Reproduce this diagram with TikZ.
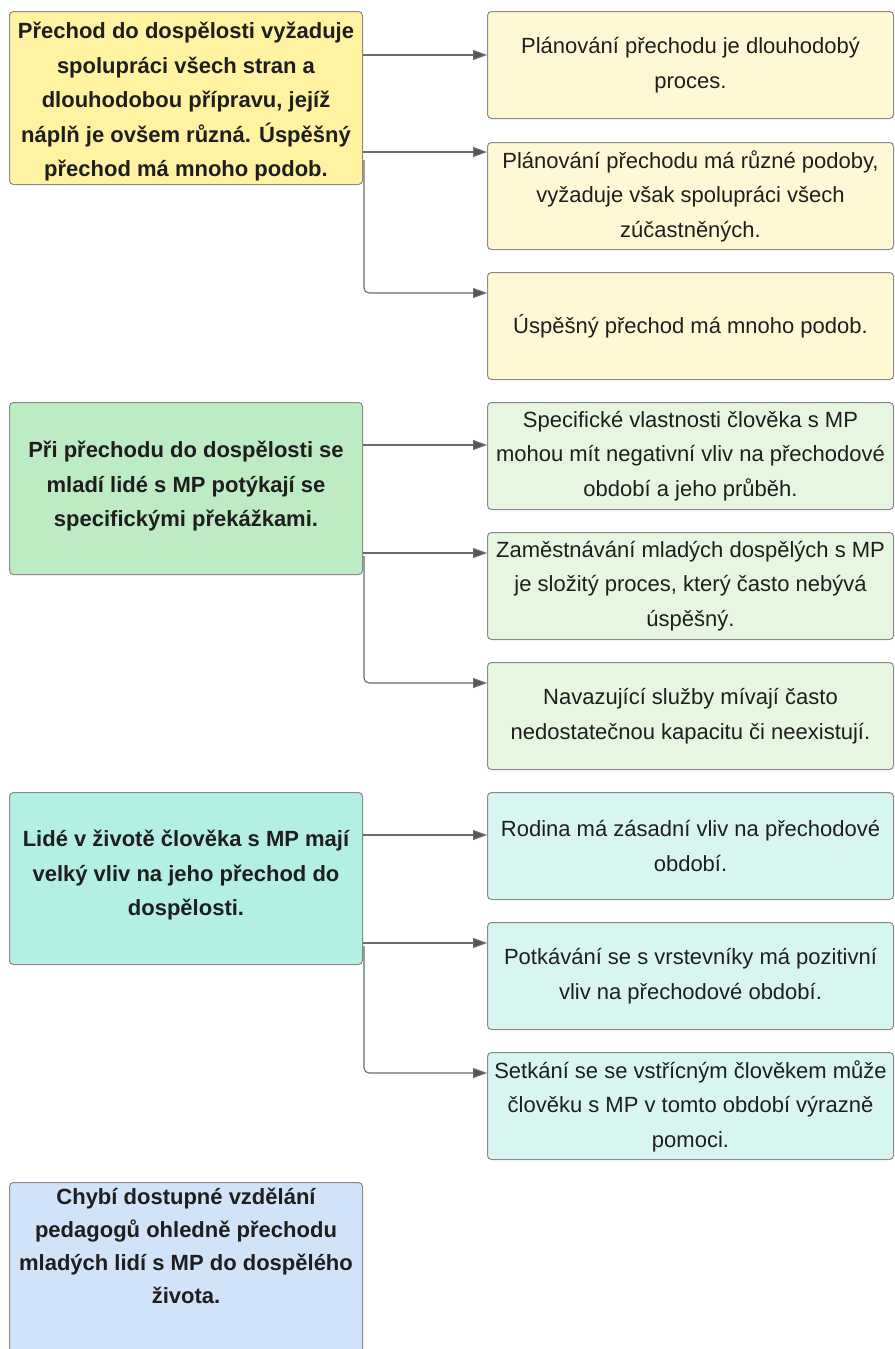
\documentclass[tikz,border=0pt]{standalone}
\usepackage{fontspec}
\setmainfont{Liberation Sans}
\usetikzlibrary{arrows.meta}
\definecolor{yellowL}{HTML}{FFF3A1}
\definecolor{yellowR}{HTML}{FEF9D4}
\definecolor{greenL}{HTML}{BDEBC3}
\definecolor{greenR}{HTML}{E6F6E1}
\definecolor{tealL}{HTML}{B4EFE6}
\definecolor{tealR}{HTML}{D7F6F2}
\definecolor{blueL}{HTML}{D0E3F9}
\definecolor{bordergray}{HTML}{8A8A8A}
\definecolor{textc}{HTML}{1E1E1E}
\definecolor{conncol}{HTML}{6B6B6B}
\tikzset{
  box/.style={draw=bordergray, line width=1pt, rounded corners=4pt, anchor=north west,
    inner sep=0pt, align=center, text=textc, font=\fontsize{22}{34.5}\selectfont},
  lbox/.style={box, minimum width=353pt, minimum height=173pt},
  ltext/.style={align=center, text=textc, inner sep=0pt, font=\bfseries\fontsize{22}{34.5}\selectfont},
  rbox/.style={box, minimum width=406pt, minimum height=107pt},
  conn/.style={draw=conncol, line width=1.1pt, rounded corners=5pt,
    -{Triangle[length=14pt,width=10pt,fill=conncol!80!black]}},
}
\begin{document}
\begin{tikzpicture}[x=1pt,y=-1pt]
\useasboundingbox (0,0) rectangle (894,1349);
\clip (0,0) rectangle (894,1349);
\fill[white] (0,0) rectangle (894,1349);
% group 1
\node[lbox, fill=yellowL] (L1) at (9,11) {};
\node[ltext] (L1t) at ([yshift=-4pt]L1.center) {Přechod do dospělosti vyžaduje\\ spolupráci všech stran a\\ dlouhodobou přípravu, jejíž\\ náplň je ovšem různá. Úspěšný\\ přechod má mnoho podob.};
\node[rbox, fill=yellowR] (R11) at (487,11) {Plánování přechodu je dlouhodobý\\ proces.};
\node[rbox, fill=yellowR] (R12) at (487,142) {Plánování přechodu má různé podoby,\\ vyžaduje však spolupráci všech\\ zúčastněných.};
\node[rbox, fill=yellowR] (R13) at (487,272) {Úspěšný přechod má mnoho podob.};
\draw[conn] (L1.east |- 0,55) -- (R11.west |- 0,55);
\draw[conn] (L1.east |- 0,152) -- (R12.west |- 0,152);
\draw[conn] ([xshift=1pt]L1.east |- 0,160) -- ([xshift=1pt]L1.east |- 0,293) -- (R13.west |- 0,293);
% group 2
\node[lbox, fill=greenL, minimum height=172pt] (L2) at (9,402) {};
\node[ltext] (L2t) at ([yshift=2pt]L2.center) {Při přechodu do dospělosti se\\ mladí lidé s MP potýkají se\\ specifickými překážkami.};
\node[rbox, fill=greenR] (R21) at (487,402) {Specifické vlastnosti člověka s MP\\ mohou mít negativní vliv na přechodové\\ období a jeho průběh.};
\node[rbox, fill=greenR] (R22) at (487,532) {Zaměstnávání mladých dospělých s MP\\ je složitý proces, který často nebývá\\ úspěšný.};
\node[rbox, fill=greenR] (R23) at (487,662) {Navazující služby mívají často\\ nedostatečnou kapacitu či neexistují.};
\draw[conn] (L2.east |- 0,445) -- (R21.west |- 0,445);
\draw[conn] (L2.east |- 0,553) -- (R22.west |- 0,553);
\draw[conn] ([xshift=1pt]L2.east |- 0,556) -- ([xshift=1pt]L2.east |- 0,683) -- (R23.west |- 0,683);
% group 3
\node[lbox, fill=tealL, minimum height=172pt] (L3) at (9,792) {};
\node[ltext] (L3t) at ([yshift=3pt]L3.center) {Lidé v životě člověka s MP mají\\ velký vliv na jeho přechod do\\ dospělosti.};
\node[rbox, fill=tealR] (R31) at (487,792) {Rodina má zásadní vliv na přechodové\\ období.};
\node[rbox, fill=tealR] (R32) at (487,922) {Potkávání se s vrstevníky má pozitivní\\ vliv na přechodové období.};
\node[rbox, fill=tealR] (R33) at (487,1052) {Setkání se se vstřícným člověkem může\\ člověku s MP v tomto období výrazně\\ pomoci.};
\draw[conn] (L3.east |- 0,835) -- (R31.west |- 0,835);
\draw[conn] (L3.east |- 0,943) -- (R32.west |- 0,943);
\draw[conn] ([xshift=1pt]L3.east |- 0,946) -- ([xshift=1pt]L3.east |- 0,1073) -- (R33.west |- 0,1073);
% group 4
\node[lbox, fill=blueL, minimum height=200pt] (L4) at (9,1182) {};
\node[ltext, font=\bfseries\fontsize{22}{33}\selectfont] (L4t) at ([yshift=-64pt]L4.north) {Chybí dostupné vzdělání\\ pedagogů ohledně přechodu\\ mladých lidí s MP do dospělého\\ života.};
\end{tikzpicture}
\end{document}
